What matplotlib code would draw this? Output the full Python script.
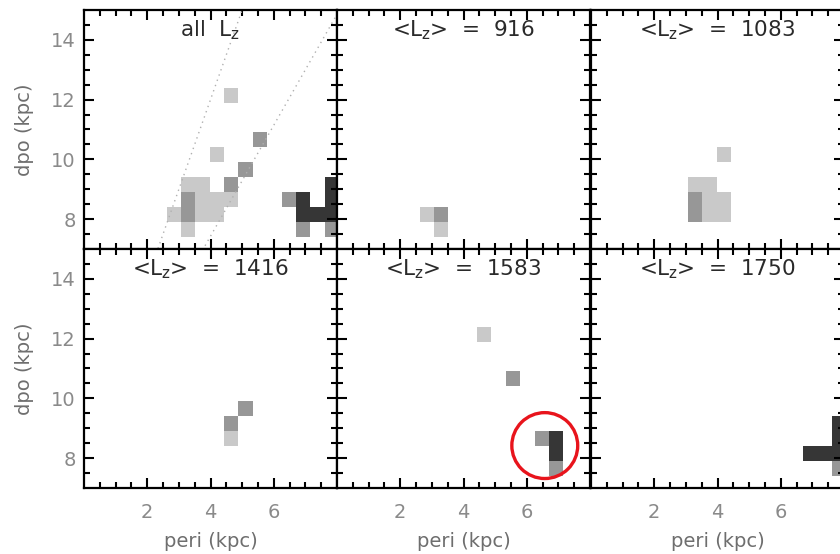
import numpy as np
import matplotlib
matplotlib.use("Agg")
import matplotlib.pyplot as plt
from matplotlib.colors import ListedColormap, BoundaryNorm

# ---------------- data ----------------
panel_titles = [r"all  L$_\mathrm{z}$", r"<L$_\mathrm{z}$>  =  916", r"<L$_\mathrm{z}$>  =  1083",
                r"<L$_\mathrm{z}$>  =  1416", r"<L$_\mathrm{z}$>  =  1583", r"<L$_\mathrm{z}$>  =  1750"]

# histogram bin edges (peri, apo) in kpc
peri_edges = [2.61, 3.065, 3.52, 3.975, 4.43, 4.885, 5.34, 5.795, 6.25, 6.705, 7.16, 7.615, 8.07]
apo_edges = [7.4, 7.9, 8.4, 8.9, 9.4, 9.9, 10.4, 10.9, 11.4, 11.9, 12.4, 12.9]

# occupied cells: peri-bin index, apo-bin index, density level (1 low, 2 mid, 3 high)
all_ix = [0, 1, 1, 1, 1, 2, 2, 2, 3, 3, 4, 4, 3, 5, 6, 4, 8, 9, 9, 9, 10, 11, 11, 11, 11]
all_iy = [1, 0, 1, 2, 3, 1, 2, 3, 1, 2, 2, 3, 5, 4, 6, 9, 2, 0, 1, 2, 1, 0, 1, 2, 3]
all_lv = [1, 1, 2, 2, 1, 1, 1, 1, 1, 1, 1, 2, 1, 2, 2, 1, 2, 2, 3, 3, 3, 2, 3, 3, 3]

lz916_ix = [0, 1, 1]
lz916_iy = [1, 1, 0]
lz916_lv = [1, 2, 1]

lz1083_ix = [3, 1, 2, 1, 1, 2, 2, 3, 3]
lz1083_iy = [5, 3, 3, 1, 2, 1, 2, 1, 2]
lz1083_lv = [1, 1, 1, 2, 2, 1, 1, 1, 1]

lz1416_ix = [4, 4, 5]
lz1416_iy = [2, 3, 4]
lz1416_lv = [1, 2, 2]

lz1583_ix = [4, 6, 8, 9, 9, 9]
lz1583_iy = [9, 6, 2, 1, 2, 0]
lz1583_lv = [1, 2, 2, 3, 3, 2]

lz1750_ix = [9, 10, 11, 11, 11, 11]
lz1750_iy = [1, 1, 0, 1, 2, 3]
lz1750_lv = [3, 3, 2, 3, 3, 3]

# guide lines of constant eccentricity (panel 1)
ecc_lines = [0.5, 0.3]

# highlighted region (panel 5): centre (peri, apo)
circle_center = (6.57, 8.42)

panels = [(all_ix, all_iy, all_lv), (lz916_ix, lz916_iy, lz916_lv),
          (lz1083_ix, lz1083_iy, lz1083_lv), (lz1416_ix, lz1416_iy, lz1416_lv),
          (lz1583_ix, lz1583_iy, lz1583_lv), (lz1750_ix, lz1750_iy, lz1750_lv)]

# ---------------- figure ----------------
W, H = 840, 554
fig = plt.figure(figsize=(W / 100, H / 100), dpi=100)

col_left = [84, 337, 591]
row_top = [10, 249]
pw, ph = 253, 239

cmap = ListedColormap(["#c9c9c9", "#979797", "#363636"])
norm = BoundaryNorm([0.5, 1.5, 2.5, 3.5], 3)

tick_col = "#8a8a8a"
lab_col = "#6e6e6e"

for k, (ix, iy, lv) in enumerate(panels):
    r, c = divmod(k, 3)
    left = col_left[c] / W
    bottom = (H - row_top[r] - ph) / H
    ax = fig.add_axes([left, bottom, pw / W, ph / H])

    grid = np.zeros((len(apo_edges) - 1, len(peri_edges) - 1))
    for a, b, v in zip(ix, iy, lv):
        grid[b, a] = v
    grid = np.ma.masked_equal(grid, 0)
    ax.pcolormesh(peri_edges, apo_edges, grid, cmap=cmap, norm=norm,
                  edgecolors="face", linewidth=0, antialiased=False)

    if k == 0:
        xx = np.array([0.0, 8.0])
        for e in ecc_lines:
            ax.plot(xx, xx * (1 + e) / (1 - e), linestyle=(0, (1, 3)),
                    color="#b0b0b0", lw=1.0)

    if k == 4:
        ax.scatter([circle_center[0]], [circle_center[1]], s=2250, marker="o",
                   facecolors="none", edgecolors="#e8141c", linewidths=2.4, zorder=5)

    ax.set_xlim(0, 8)
    ax.set_ylim(7, 15)
    ax.set_xticks([2, 4, 6])
    ax.set_yticks([8, 10, 12, 14])
    ax.set_xticks(np.arange(0.5, 8, 0.5), minor=True)
    ax.set_yticks(np.arange(7.5, 15, 0.5), minor=True)
    ax.tick_params(which="both", direction="in", top=True, right=True,
                   width=1.5, color="black", labelcolor=tick_col, labelsize=14)
    ax.tick_params(which="major", length=7)
    ax.tick_params(which="minor", length=4)
    ax.tick_params(axis="x", pad=11)
    ax.tick_params(axis="y", pad=6)
    for s in ax.spines.values():
        s.set_linewidth(1.6)
        s.set_color("black")

    if r == 0:
        ax.set_xticklabels([])
    else:
        ax.set_xlabel("peri (kpc)", fontsize=14, color=lab_col)
        ax.xaxis.set_label_coords(0.5, -(541.7 - 488) / ph)
        ax.xaxis.label.set_va("center")
    if c == 0:
        ax.set_ylabel("dpo (kpc)", fontsize=14, color=lab_col)
        ax.yaxis.set_label_coords(-(84 - 25) / pw, 0.5)
        ax.yaxis.label.set_va("center")
    else:
        ax.set_yticklabels([])

    ax.text(0.5, 1 - 20 / ph, panel_titles[k], transform=ax.transAxes,
            ha="center", va="center", fontsize=15.5, color="#2a2a2a")

fig.savefig("out.png", dpi=100)
